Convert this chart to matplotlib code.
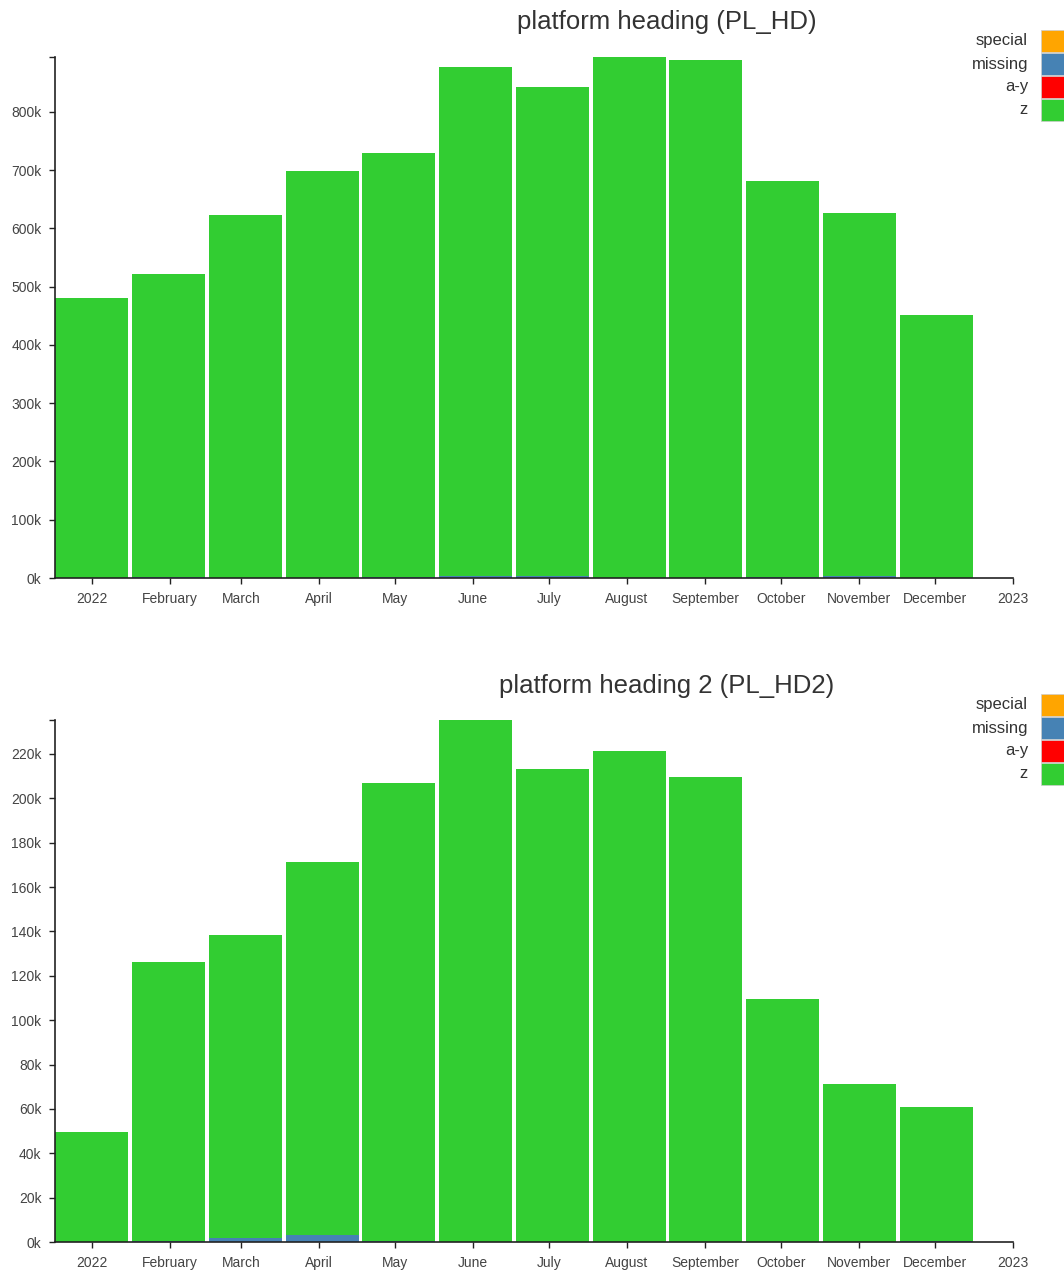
import matplotlib
matplotlib.use("Agg")
import matplotlib.pyplot as plt
import matplotlib.dates as mdates
from matplotlib.patches import Rectangle
import numpy as np
import datetime as dt

plt.rcParams['font.family'] = ['Liberation Sans', 'DejaVu Sans']

months = ["2022", "February", "March", "April", "May", "June", "July",
          "August", "September", "October", "November", "December", "2023"]
legend_labels = ["special", "missing", "a-y", "z"]
colors = {"special": "#FFA500", "missing": "#4682B4", "a-y": "#FF0000", "z": "#32CD32"}

title1 = "platform heading (PL_HD)"
hd_special = [0] * 12
hd_missing = [0, 1500, 0, 0, 2000, 4000, 4000, 0, 0, 2000, 3500, 0]
hd_ay = [0] * 12
hd_z = [480000, 521000, 623600, 699000, 727800, 873000, 838800, 894000,
        889000, 679800, 623500, 452000]

title2 = "platform heading 2 (PL_HD2)"
hd2_special = [0] * 12
hd2_missing = [0, 500, 1800, 3200, 500, 0, 0, 0, 0, 0, 0, 400]
hd2_ay = [0] * 12
hd2_z = [49600, 125700, 136600, 168100, 206500, 235300, 213300, 221400,
         209600, 109600, 71200, 60500]

fig = plt.figure(figsize=(10.64, 12.7), dpi=100)
W, H = 1064, 1270

start = mdates.date2num(dt.datetime(2022, 1, 1))
end = mdates.date2num(dt.datetime(2023, 1, 1))
xleft = start - 37 / 921 * 365
tick_pos = [mdates.date2num(dt.datetime(2022, m, 1)) for m in range(1, 13)] + [end]
band = 365 / 12


def draw(ax_rect, title, title_y, series, legend_y0, ystep):
    ax = fig.add_axes(ax_rect)
    n = len(series[0][1])
    idx = np.arange(n)
    lefts = xleft + idx * band + band * 0.006
    bottom = np.zeros(n)
    total = np.zeros(n)
    for name, vals in series:
        total = total + np.array(vals, dtype=float)
    for name, vals in series:
        v = np.array(vals, dtype=float)
        ax.bar(lefts, v, width=band * 0.95, bottom=bottom, align='edge',
               color=colors[name], edgecolor='none', linewidth=0)
        bottom = bottom + v
    ymax = total.max()
    ax.set_ylim(0, ymax)
    ax.set_xlim(xleft, end)
    ax.set_xticks(tick_pos)
    ax.set_xticklabels(months)
    yt = np.arange(0, ymax + 1, ystep)
    ax.set_yticks(list(yt) + [ymax])
    ax.set_yticklabels([f"{int(t/1000)}k" for t in yt] + [""])
    for s in ['top', 'right']:
        ax.spines[s].set_visible(False)
    for s in ['left', 'bottom']:
        ax.spines[s].set_color('#222222')
        ax.spines[s].set_linewidth(1.2)
    ax.tick_params(axis='both', length=4.3, width=1.0, color='#222222',
                   labelsize=10, labelcolor='#444444')
    ax.tick_params(axis='y', pad=5.5)
    ax.tick_params(axis='x', pad=5.5)
    ax.patch.set_alpha(0)
    fig.text(667 / W, 1 - title_y / H, title, ha='center', va='center',
             fontsize=18.5, color='#333333')
    for k, name in enumerate(legend_labels):
        yc = legend_y0 + k * 23
        fig.patches.append(Rectangle((1041 / W, 1 - (yc + 11) / H), 23 / W, 22 / H,
                                     transform=fig.transFigure,
                                     facecolor=colors[name], edgecolor='#cccccc',
                                     linewidth=0.5))
        fig.text(1028 / W, 1 - yc / H, name, ha='right', va='center',
                 fontsize=12, color='#333333')
    return ax


draw([55 / W, 1 - 578 / H, 958 / W, 521 / H], title1, 22,
     [("special", hd_special), ("missing", hd_missing), ("a-y", hd_ay), ("z", hd_z)],
     41, 100000)
draw([55 / W, 1 - 1242 / H, 958 / W, 522 / H], title2, 686,
     [("special", hd2_special), ("missing", hd2_missing), ("a-y", hd2_ay), ("z", hd2_z)],
     705, 20000)

fig.savefig("out.png", dpi=100)
